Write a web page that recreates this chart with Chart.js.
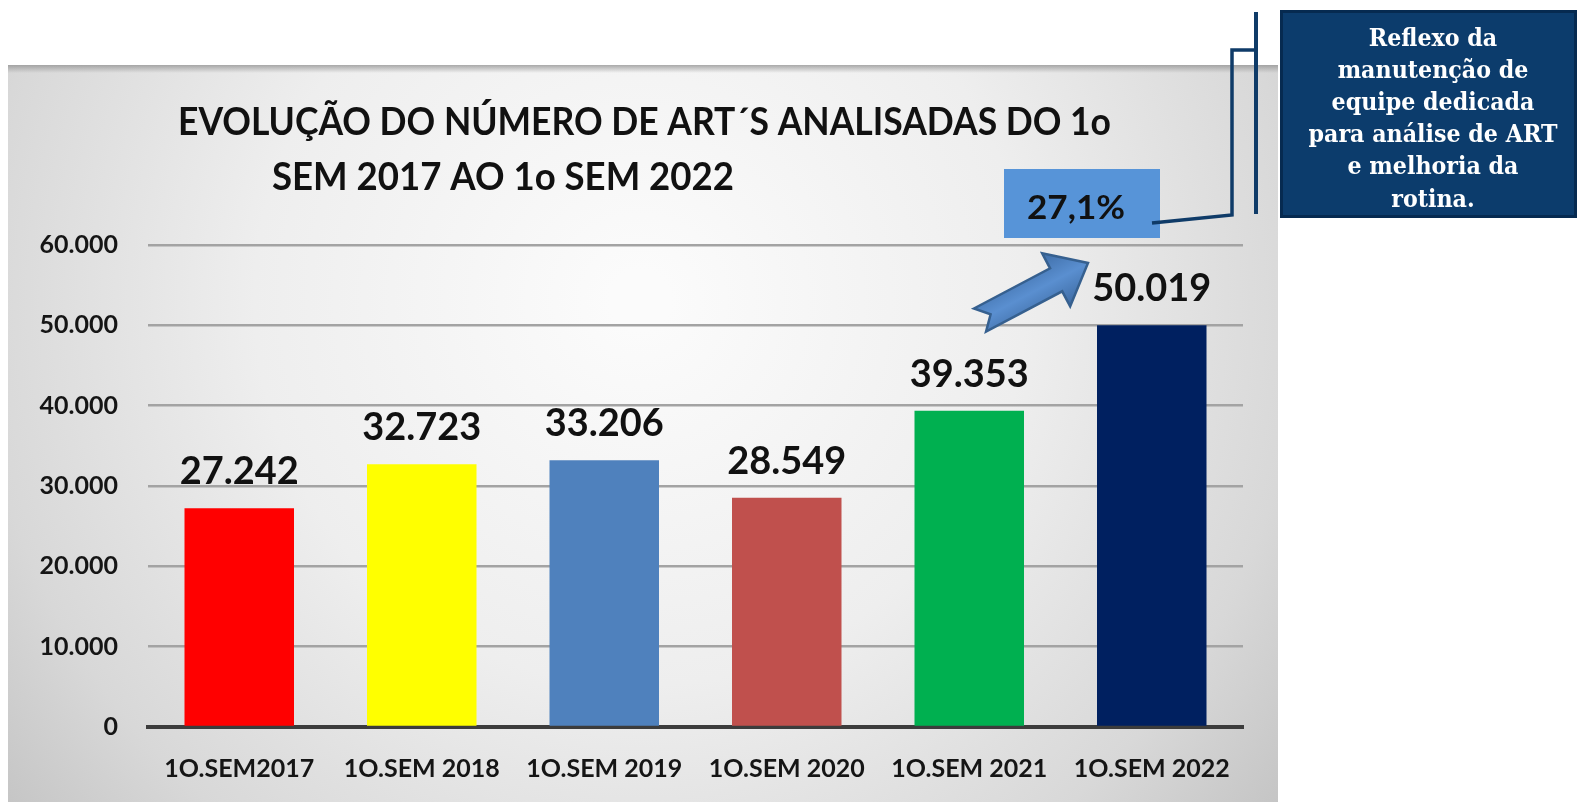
<!DOCTYPE html>
<html><head><meta charset="utf-8">
<script src="https://cdn.jsdelivr.net/npm/chart.js@4/dist/chart.umd.min.js"></script>
<style>html,body{margin:0;padding:0;background:#fff;overflow:hidden}canvas{display:block}</style>
</head><body>
<canvas id="c" width="1577" height="802" style="width:1577px;height:802px"></canvas>
<script>
const categories = ['1O.SEM2017','1O.SEM 2018','1O.SEM 2019','1O.SEM 2020','1O.SEM 2021','1O.SEM 2022'];
const artValues = [27242, 32723, 33206, 28549, 39353, 50019];
const valueLabels = ['27.242','32.723','33.206','28.549','39.353','50.019'];
const barColors = ['#FF0000','#FFFF00','#4F81BD','#C0504D','#00B050','#002060'];
const yTickValues = [0, 10000, 20000, 30000, 40000, 50000, 60000];
const titleLines = ['EVOLUÇÃO DO NÚMERO DE ART´S ANALISADAS DO 1o', 'SEM 2017 AO 1o SEM 2022'];
const growthLabel = '27,1%';
const noteLines = ['Reflexo da','manutenção de','equipe dedicada','para análise de ART','e melhoria da','rotina.'];

const fmt = v => String(v).replace(/\B(?=(\d{3})+(?!\d))/g, '.');
const SANS = 'Lato, "Open Sans", sans-serif';

function fitText(ctx, text, x, y, targetW, font, align) {
  ctx.save();
  ctx.font = font;
  const w = ctx.measureText(text).width;
  const s = targetW / w;
  ctx.translate(x, y);
  ctx.scale(s, 1);
  ctx.textAlign = align || 'center';
  ctx.fillText(text, 0, 0);
  ctx.restore();
}

const decor = {
  id: 'decor',
  beforeDraw(chart) {
    const ctx = chart.ctx;
    ctx.save();
    ctx.fillStyle = '#ffffff';
    ctx.fillRect(0, 0, chart.width, chart.height);
    const px = 8, py = 65, pw = 1270, ph = 737;
    const g = ctx.createRadialGradient(640, 300, 30, 640, 300, 820);
    g.addColorStop(0, '#fbfbfb');
    g.addColorStop(0.45, '#eeeeee');
    g.addColorStop(0.8, '#d8d8d8');
    g.addColorStop(1, '#c4c4c4');
    ctx.fillStyle = g;
    ctx.fillRect(px, py, pw, ph);
    const tg = ctx.createLinearGradient(0, py, 0, py + 8);
    tg.addColorStop(0, 'rgba(150,150,150,0.8)');
    tg.addColorStop(1, 'rgba(150,150,150,0)');
    ctx.fillStyle = tg;
    ctx.fillRect(px, py, pw, 8);
    ctx.restore();
  },
  afterDatasetsDraw(chart) {
    const ctx = chart.ctx;
    const meta = chart.getDatasetMeta(0);
    ctx.save();
    ctx.fillStyle = '#111';
    ctx.textBaseline = 'middle';
    meta.data.forEach((bar, i) => {
      fitText(ctx, valueLabels[i], bar.x, bar.y - 36, 119, 'bold 38px ' + SANS, 'center');
    });
    ctx.restore();
  },
  afterDraw(chart) {
    const ctx = chart.ctx;
    ctx.save();
    ctx.fillStyle = '#111';
    ctx.textBaseline = 'middle';
    fitText(ctx, titleLines[0], 178, 122, 933, 'bold 39px ' + SANS, 'left');
    fitText(ctx, titleLines[1], 272, 177, 462, 'bold 39px ' + SANS, 'left');

    ctx.fillStyle = '#5794d8';
    ctx.fillRect(1004, 169, 156, 69);
    ctx.fillStyle = '#111';
    fitText(ctx, growthLabel, 1076, 208, 98, 'bold 33px ' + SANS, 'center');

    ctx.strokeStyle = '#0f3b68';
    ctx.lineWidth = 3.5;
    ctx.beginPath();
    ctx.moveTo(1152, 223);
    ctx.lineTo(1232, 215);
    ctx.lineTo(1232, 50);
    ctx.lineTo(1256, 50);
    ctx.stroke();
    ctx.lineWidth = 4;
    ctx.beginPath();
    ctx.moveTo(1256, 12);
    ctx.lineTo(1256, 214);
    ctx.stroke();

    ctx.fillStyle = '#0c3c6c';
    ctx.fillRect(1280, 10, 297, 208);
    ctx.strokeStyle = '#062a50';
    ctx.lineWidth = 3;
    ctx.strokeRect(1281.5, 11.5, 294, 205);
    ctx.fillStyle = '#ffffff';
    ctx.font = 'bold 25px "DejaVu Serif", serif';
    const refW = ctx.measureText(noteLines[3]).width;
    const sx = 249 / refW;
    noteLines.forEach((ln, i) => {
      ctx.save();
      ctx.translate(1433, 39 + i * 32.2);
      ctx.scale(sx, 1);
      ctx.textAlign = 'center';
      ctx.textBaseline = 'middle';
      ctx.fillText(ln, 0, 0);
      ctx.restore();
    });

    const tx = 980, ty = 320, hx = 1088, hy = 263;
    const ang = Math.atan2(hy - ty, hx - tx);
    const L = Math.hypot(hx - tx, hy - ty);
    ctx.save();
    ctx.translate(tx, ty);
    ctx.rotate(ang);
    const hl = 36, sw = 13, hw = 30, notch = 12;
    ctx.beginPath();
    ctx.moveTo(0, -sw);
    ctx.lineTo(L - hl, -sw);
    ctx.lineTo(L - hl, -hw);
    ctx.lineTo(L, 0);
    ctx.lineTo(L - hl, hw);
    ctx.lineTo(L - hl, sw);
    ctx.lineTo(0, sw);
    ctx.lineTo(notch, 0);
    ctx.closePath();
    const ag = ctx.createLinearGradient(0, -hw, 0, hw);
    ag.addColorStop(0, '#3f6ea8');
    ag.addColorStop(0.5, '#5a8fd0');
    ag.addColorStop(1, '#3d6aa2');
    ctx.fillStyle = ag;
    ctx.fill();
    ctx.strokeStyle = '#36608f';
    ctx.lineWidth = 2.5;
    ctx.stroke();
    ctx.restore();
    ctx.restore();
  }
};

new Chart(document.getElementById('c'), {
  type: 'bar',
  data: {
    labels: categories,
    datasets: [{
      data: artValues,
      backgroundColor: barColors,
      borderWidth: 0,
      barPercentage: 0.6,
      categoryPercentage: 1
    }]
  },
  options: {
    responsive: false,
    animation: false,
    devicePixelRatio: 1,
    layout: { padding: { left: 0, right: 334, top: 245, bottom: 0 } },
    plugins: { legend: { display: false }, tooltip: { enabled: false }, title: { display: false } },
    scales: {
      x: {
        grid: { display: false, drawTicks: false },
        border: { display: true, color: '#3c3c3c', width: 4 },
        ticks: { color: '#151515', font: { family: SANS, size: 25, weight: 'bold' }, padding: 27, maxRotation: 0, autoSkip: false },
        afterFit: s => { s.height = 75; }
      },
      y: {
        min: 0, max: 60000,
        afterBuildTicks: s => { s.ticks = yTickValues.map(v => ({ value: v })); },
        grid: { color: ctx => ctx.tick && ctx.tick.value === 0 ? 'rgba(0,0,0,0)' : '#a3a3a3', lineWidth: 2.5, drawTicks: false },
        border: { display: false },
        ticks: { color: '#151515', font: { family: SANS, size: 25, weight: 'bold' }, padding: 30, callback: v => fmt(v) },
        afterFit: s => { s.width = 148; }
      }
    }
  },
  plugins: [decor]
});
</script>
</body></html>
